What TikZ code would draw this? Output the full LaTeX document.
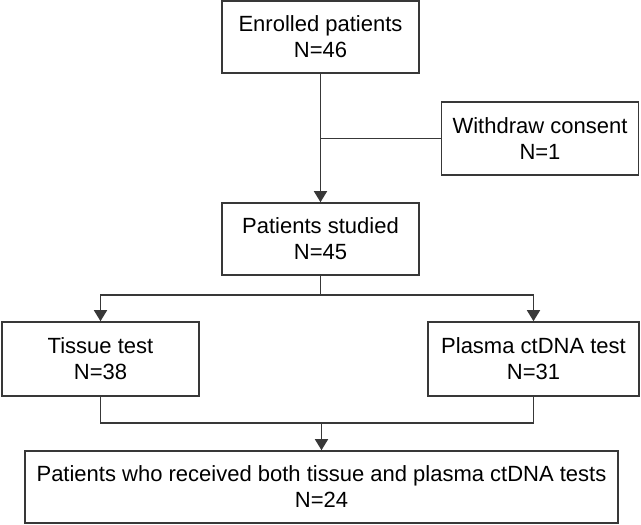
\documentclass[tikz,border=0pt]{standalone}
\usepackage{fontspec}
\setmainfont{Liberation Sans}
\usetikzlibrary{arrows.meta}
\begin{document}
\begin{tikzpicture}[x=1pt,y=-1pt,
  box/.style={draw=black!78,line width=1.6pt,inner sep=0pt,align=center,text=black,
    font=\fontsize{22}{26}\selectfont},
  link/.style={draw=black!78,line width=1.6pt},
  arr/.style={link,-{Triangle[length=11pt,width=13pt]}}]
\useasboundingbox (0,0) rectangle (641,525);
\node[box,minimum width=197pt,minimum height=72pt] (enr) at (320.5,37) {Enrolled patients\\N=46};
\node[box,minimum width=197pt,minimum height=73pt] (wd) at (540,138.5) {Withdraw consent\\N=1};
\node[box,minimum width=197pt,minimum height=72pt] (stu) at (320.5,239) {Patients studied\\N=45};
\node[box,minimum width=197pt,minimum height=74pt] (tis) at (100.5,359) {Tissue test\\N=38};
\node[box,minimum width=211pt,minimum height=74pt] (pla) at (533.5,359) {Plasma ctDNA test\\N=31};
\node[box,minimum width=593pt,minimum height=72pt] (bot) at (321.5,487) {Patients who received both tissue and plasma ctDNA tests\\N=24};
\coordinate (split) at (320.5,295);
\coordinate (merge) at (321.5,423);
\draw[arr] (enr.south) -- (stu.north);
\draw[link] (enr.south |- wd.west) -- (wd.west);
\draw[link] (stu.south) -- (split);
\draw[arr] (split) -| (tis.north);
\draw[arr] (split) -| (pla.north);
\draw[link] (tis.south) |- (merge);
\draw[link] (pla.south) |- (merge);
\draw[arr] (merge) -- (bot.north);
\end{tikzpicture}
\end{document}
